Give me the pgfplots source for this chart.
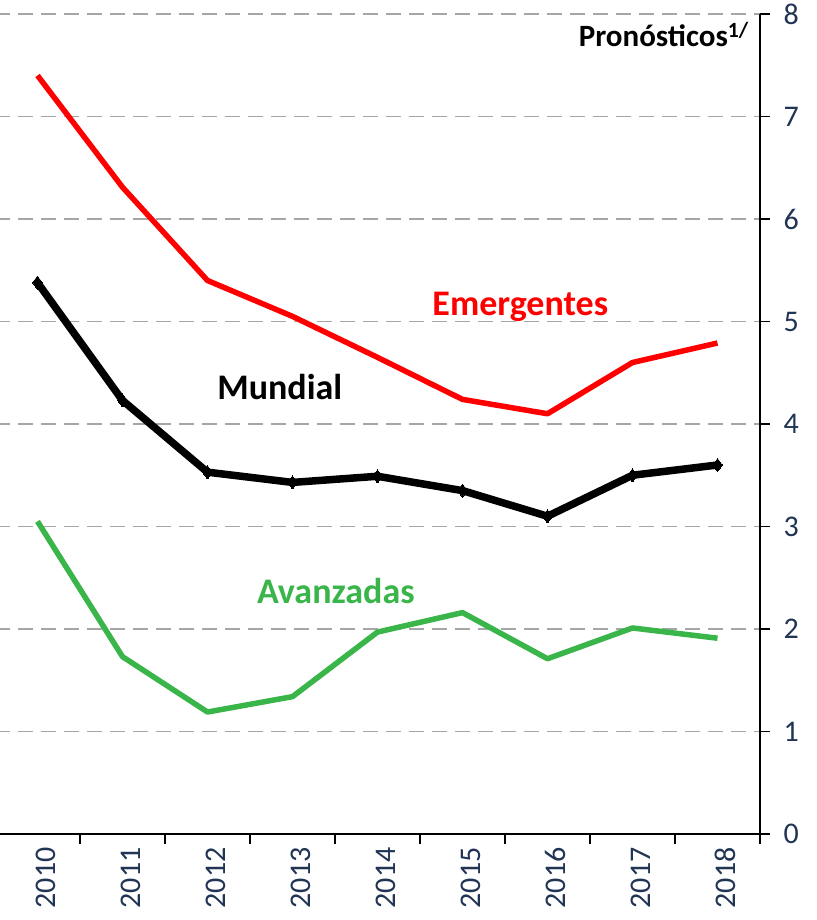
\documentclass[border=0pt]{standalone}
\usepackage{fontspec}
\setmainfont{Carlito}
\usepackage{pgfplots}
\pgfplotsset{compat=1.18}
\definecolor{tickc}{RGB}{33,52,84}
\definecolor{gridc}{RGB}{166,166,166}
\definecolor{emred}{RGB}{255,0,0}
\definecolor{avgreen}{RGB}{57,181,74}
\begin{document}
\begin{tikzpicture}
\begin{axis}[
 scale only axis, width=765pt, height=820pt,
 xmin=-0.5, xmax=8.5, ymin=0, ymax=8,
 axis y line*=right, axis x line*=bottom,
 axis line style={line width=1.6pt, black},
 xtick={0,1,2,3,4,5,6,7,8},
 xticklabels={2010,2011,2012,2013,2014,2015,2016,2017,2018},
 minor xtick={-0.5,0.5,1.5,2.5,3.5,4.5,5.5,6.5,7.5,8.5},
 ytick={0,1,2,3,4,5,6,7,8},
 tick align=outside,
 major x tick style={draw=none},
 minor x tick style={line width=1.6pt, black},
 y tick style={line width=1.6pt, black},
 minor tick length=10pt, major tick length=10pt,
 ymajorgrids, grid style={gridc, line width=1.8pt, dash pattern=on 15pt off 8pt},
 xticklabel style={rotate=90, anchor=east, font=\fontsize{30}{36}\selectfont, text=tickc, yshift=-8pt},
 yticklabel style={font=\fontsize{30}{36}\selectfont, text=tickc, anchor=west, xshift=10pt},
 /pgf/number format/assume math mode=true,
 clip=false,
]
\addplot[emred, line width=5.5pt, line join=round] coordinates {
 (0,7.40) (1,6.31) (2,5.40) (3,5.05) (4,4.65) (5,4.24) (6,4.10) (7,4.60) (8,4.79)};
\addplot[avgreen, line width=5.5pt, line join=round] coordinates {
 (0,3.05) (1,1.73) (2,1.19) (3,1.34) (4,1.97) (5,2.16) (6,1.71) (7,2.01) (8,1.91)};
\addplot[black, line width=7.5pt, line join=round, mark=diamond*, mark size=6.5pt, mark options={solid, line width=0pt}] coordinates {
 (0,5.38) (1,4.23) (2,3.53) (3,3.43) (4,3.49) (5,3.35) (6,3.10) (7,3.50) (8,3.60)};
\node[emred, font=\fontsize{36}{40}\selectfont\bfseries, anchor=base] at (axis cs:5.68,5.06) {Emergentes};
\node[black, font=\fontsize{36}{40}\selectfont\bfseries, anchor=base] at (axis cs:2.85,4.24) {Mundial};
\node[avgreen, font=\fontsize{36}{40}\selectfont\bfseries, anchor=base] at (axis cs:3.51,2.25) {Avanzadas};
\node[black, font=\fontsize{31}{36}\selectfont\bfseries, anchor=base east, inner sep=0pt] at (axis cs:8.37,7.68) {Pronósticos\textsuperscript{1/}};
\coordinate (SW) at (rel axis cs:0,0);
\coordinate (NE) at (rel axis cs:1,1);
\end{axis}
\pgfresetboundingbox
\path[use as bounding box] ([xshift=5pt,yshift=-86pt]SW) rectangle ([xshift=57pt,yshift=14pt]NE);
\end{tikzpicture}
\end{document}
